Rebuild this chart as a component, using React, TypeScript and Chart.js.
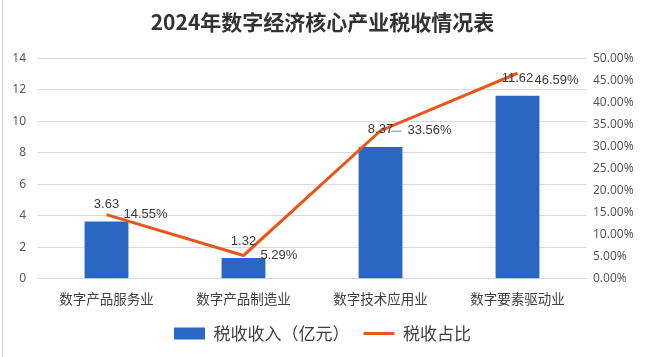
import React, { useEffect, useRef } from "react";
import { Chart, registerables } from "chart.js";

Chart.register(...registerables);

const titleText = "2024年数字经济核心产业税收情况表";
const categories = ["数字产品服务业", "数字产品制造业", "数字技术应用业", "数字要素驱动业"];
const taxRevenue = [3.63, 1.32, 8.37, 11.62];
const taxShare = [14.55, 5.29, 33.56, 46.59];
const barLabel = "税收收入（亿元）";
const lineLabel = "税收占比";

const BAR_COLOR = "#2A67C2";
const LINE_COLOR = "#E8561C";

const labelPlugin = {
  id: "valueLabels",
  beforeDraw(chart: any) {
    const ctx = chart.ctx;
    ctx.save();
    ctx.strokeStyle = "#d0d0d0";
    ctx.lineWidth = 1;
    ctx.beginPath();
    ctx.moveTo(2.5, 0);
    ctx.lineTo(2.5, chart.height);
    ctx.stroke();
    ctx.restore();
  },
  afterDatasetsDraw(chart: any) {
    const ctx = chart.ctx;
    ctx.save();
    ctx.font = "13px 'Liberation Sans', Arial, sans-serif";
    ctx.fillStyle = "#3a3a3a";
    ctx.textBaseline = "middle";
    const barMeta = chart.getDatasetMeta(0);
    barMeta.data.forEach((el: any, i: number) => {
      ctx.textAlign = "center";
      ctx.fillText(taxRevenue[i].toFixed(2), el.x, el.y - 17);
    });
    const lineMeta = chart.getDatasetMeta(1);
    lineMeta.data.forEach((el: any, i: number) => {
      ctx.textAlign = "left";
      let dx = 17;
      let dy = 0;
      if (i === 2) {
        dx = 27;
        ctx.save();
        ctx.strokeStyle = "#808080";
        ctx.lineWidth = 1;
        ctx.beginPath();
        ctx.moveTo(el.x + 11, el.y + 0.5);
        ctx.lineTo(el.x + 21, el.y + 0.5);
        ctx.stroke();
        ctx.restore();
      }
      if (i === 3) dy = 7;
      ctx.fillText(taxShare[i].toFixed(2) + "%", el.x + dx, el.y + dy);
    });
    ctx.restore();
  },
};

export default function App() {
  const ref = useRef<HTMLCanvasElement | null>(null);
  useEffect(() => {
    document.body.style.margin = "0";
    const canvas = ref.current!;
    const chart = new Chart(canvas, {
      type: "bar",
      data: {
        labels: categories,
        datasets: [
          {
            type: "bar",
            label: barLabel,
            data: taxRevenue,
            backgroundColor: BAR_COLOR,
            borderWidth: 0,
            barPercentage: 0.32,
            categoryPercentage: 1,
            yAxisID: "y",
            order: 2,
            pointStyle: "rect",
          } as any,
          {
            type: "line",
            label: lineLabel,
            data: taxShare,
            borderColor: LINE_COLOR,
            backgroundColor: LINE_COLOR,
            borderWidth: 3,
            pointRadius: 0,
            tension: 0,
            yAxisID: "y1",
            order: 1,
            pointStyle: "line",
          } as any,
        ],
      },
      options: {
        animation: false,
        responsive: false,
        devicePixelRatio: 1,
        layout: { padding: { left: 0, right: 0, top: 0, bottom: 5 } },
        plugins: {
          title: {
            display: true,
            text: titleText,
            font: { size: 21, weight: "bold", family: "'Noto Sans CJK SC', serif" },
            color: "#333333",
            padding: { top: 9, bottom: 24 },
          },
          legend: {
            position: "bottom",
            labels: {
              usePointStyle: true,
              pointStyleWidth: 31,
              boxHeight: 12,
              boxWidth: 31,
              padding: 14,
              color: "#404040",
              font: { size: 17, family: "'Noto Sans CJK SC', sans-serif" },
              sort: (a: any, b: any) => a.datasetIndex - b.datasetIndex,
            },
          },
          tooltip: { enabled: false },
        },
        scales: {
          x: {
            grid: { display: false },
            border: { color: "#d9d9d9" },
            ticks: {
              color: "#404040",
              font: { size: 13.5, family: "'Noto Sans CJK SC', sans-serif" },
              padding: 4,
            },
          },
          y: {
            position: "left",
            min: 0,
            max: 14,
            ticks: {
              stepSize: 2,
              color: "#595959",
              font: { size: 12, family: "'Noto Sans', sans-serif" },
              padding: 12,
            },
            grid: { color: "#d9d9d9", drawTicks: false },
            border: { display: false },
            afterFit(scale: any) {
              scale.width = 38;
            },
          },
          y1: {
            position: "right",
            min: 0,
            max: 50,
            ticks: {
              stepSize: 5,
              color: "#595959",
              font: { size: 12, family: "'Noto Sans', sans-serif" },
              padding: 7,
              callback: (v: any) => Number(v).toFixed(2) + "%",
            },
            grid: { display: false, drawTicks: false },
            border: { display: false },
            afterFit(scale: any) {
              scale.width = 59;
            },
          },
        },
      },
      plugins: [labelPlugin],
    });
    return () => chart.destroy();
  }, []);
  return (
    <div style={{ width: 645, height: 357, background: "#fff" }}>
      <canvas ref={ref} width={645} height={357} style={{ display: "block" }} />
    </div>
  );
}
